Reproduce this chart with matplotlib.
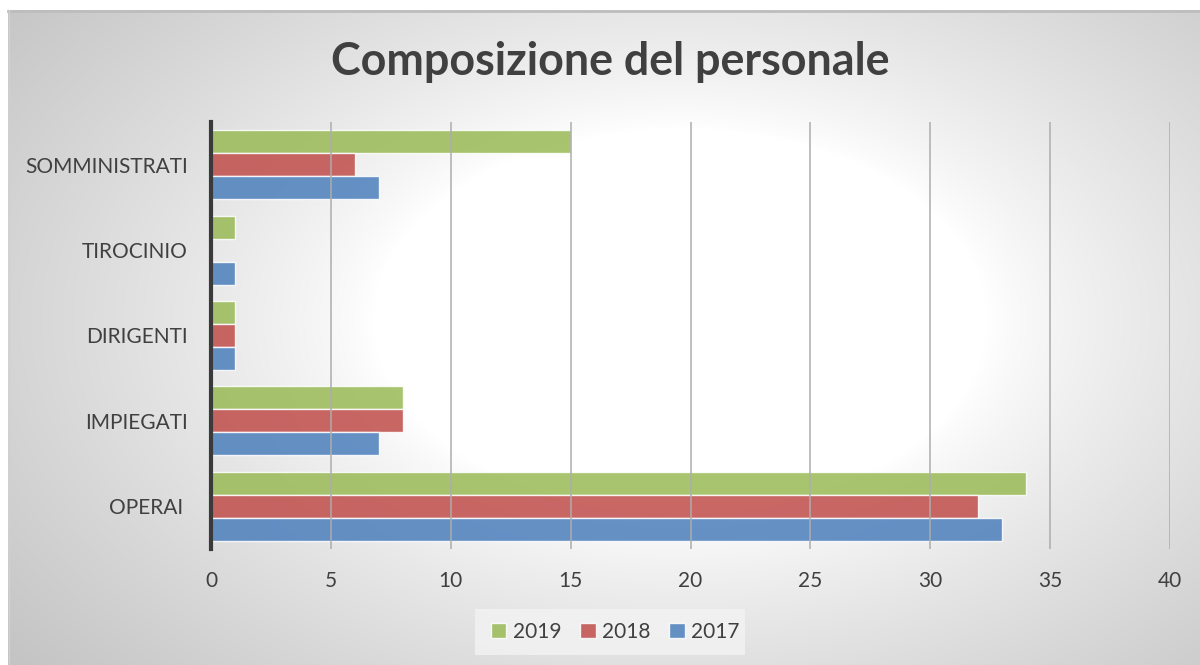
import numpy as np
import matplotlib
matplotlib.use("Agg")
import matplotlib.pyplot as plt
from matplotlib.patches import Rectangle

categories = ["OPERAI ", "IMPIEGATI", "DIRIGENTI", "TIROCINIO", "SOMMINISTRATI"]
years = ["2019", "2018", "2017"]
v2019 = [34, 8, 1, 1, 15]
v2018 = [32, 8, 1, 0, 6]
v2017 = [33, 7, 1, 1, 7]
series = [v2019, v2018, v2017]
colors = ["#9BBB59", "#C0504D", "#4F81BD"]
xticks = [0, 5, 10, 15, 20, 25, 30, 35, 40]

FONT = ["Lato", "DejaVu Sans"]
plt.rcParams["font.family"] = FONT
W, H = 1200, 665
fig = plt.figure(figsize=(W / 100, H / 100), dpi=100)

# background gradient
bg = fig.add_axes([0, 0, 1, 1], zorder=-10)
yy, xx = np.mgrid[0:H, 0:W]
cx, cy, a, b = 680, 320, 640, 400
d = np.sqrt(((xx - cx) / a) ** 2 + ((yy - cy) / b) ** 2)
t = np.clip((d - 0.48) / 0.85, 0, None)
val = 255 - 58 * t ** 0.8
val = np.clip(val, 192, 255)
val[:10, :] = 255
val[:, :8] = 255
img = np.dstack([val, val, val]) / 255.0
bg.imshow(img, extent=[0, W, H, 0], aspect="auto", interpolation="bilinear")
bg.plot([8, W], [10.5, 10.5], color="#BDBDBD", lw=2)
bg.plot([8.5, 8.5], [10, H], color="#D0D0D0", lw=1)
# legend box
bg.add_patch(Rectangle((475, 609), 270, 46, facecolor="#F3F3F3", edgecolor="none", alpha=0.8))
bg.set_xlim(0, W)
bg.set_ylim(H, 0)
bg.axis("off")

ax = fig.add_axes([211 / W, 1 - 549 / H, (1170 - 211) / W, (549 - 122) / H])
ax.patch.set_alpha(0)
y = np.arange(len(categories))
h = 0.27
offsets = [h, 0, -h]
for vals, c, off, lab in zip(series, colors, offsets, years):
    ax.barh(y + off, vals, height=h, color=c, alpha=0.87, edgecolor=(1, 1, 1, 0.5),
            linewidth=1.0, label=lab, zorder=2)

ax.set_xlim(0, 40)
ax.set_ylim(-0.5, 4.5)
ax.set_xticks(xticks)
ax.set_xticklabels([str(v) for v in xticks])
ax.set_yticks(y)
ax.set_yticklabels(categories)
ax.grid(axis="x", color="#ADADAD", lw=1.1, zorder=3)
ax.set_axisbelow(False)
for s in ["top", "right", "bottom"]:
    ax.spines[s].set_visible(False)
ax.spines["left"].set_color("#3A3A3A")
ax.spines["left"].set_linewidth(3)
ax.spines["left"].set_zorder(5)
ax.tick_params(axis="y", length=0, pad=16.5, labelsize=15, labelcolor="#404040")
ax.tick_params(axis="x", length=0, pad=16, labelsize=15, labelcolor="#404040")

fig.text(610 / W, 1 - 62 / H, "Composizione del personale", ha="center", va="center",
         fontsize=32.3, fontweight="bold", color="#404040")

handles, labels = ax.get_legend_handles_labels()
leg = fig.legend(handles, labels, loc="center", bbox_to_anchor=(615 / W, 1 - 632 / H),
                 ncol=3, frameon=False, fontsize=15, handlelength=0.75, handleheight=0.75,
                 handletextpad=0.3, columnspacing=0.9, labelcolor="#404040")

fig.savefig("out.png", dpi=100)
